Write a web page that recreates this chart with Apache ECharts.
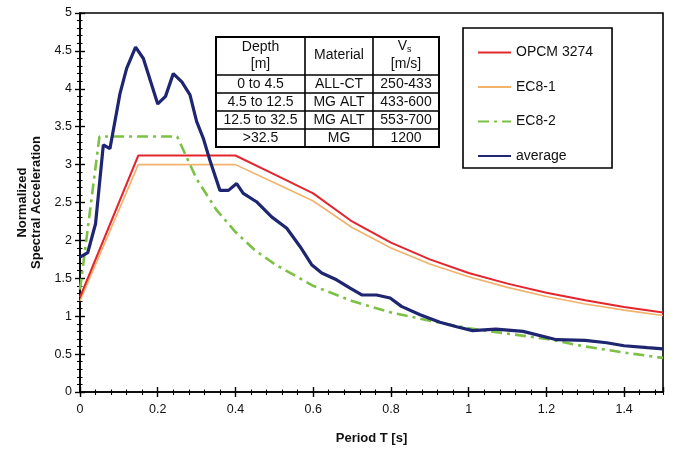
<!DOCTYPE html>
<html>
<head>
<meta charset="utf-8">
<script src="https://cdn.jsdelivr.net/npm/echarts@6/dist/echarts.min.js"></script>
<style>
  html, body { margin: 0; padding: 0; background: #fff; }
  #chart { width: 674px; height: 450px; }
</style>
</head>
<body>
<div id="chart"></div>
<script>
// Normalized elastic response spectra vs. the averaged site response
const opcmPeriod = [0, 0.15, 0.4, 0.5, 0.6, 0.7, 0.8, 0.9, 1.0, 1.1, 1.2, 1.3, 1.4, 1.5];
const opcmAccel  = [1.25, 3.12, 3.12, 2.87, 2.62, 2.25, 1.97, 1.75, 1.57, 1.43, 1.31, 1.21, 1.12, 1.05];

const ec81Period = [0, 0.15, 0.4, 0.5, 0.6, 0.7, 0.8, 0.9, 1.0, 1.1, 1.2, 1.3, 1.4, 1.5];
const ec81Accel  = [1.2, 3.0, 3.0, 2.76, 2.52, 2.17, 1.90, 1.69, 1.52, 1.38, 1.26, 1.16, 1.08, 1.01];

const ec82Period = [0, 0.05, 0.25, 0.3, 0.35, 0.4, 0.45, 0.5, 0.6, 0.7, 0.8, 0.9, 1.0, 1.1, 1.2, 1.3, 1.4, 1.5];
const ec82Accel  = [1.35, 3.37, 3.37, 2.81, 2.41, 2.11, 1.87, 1.69, 1.40, 1.20, 1.05, 0.94, 0.84, 0.77, 0.70, 0.60, 0.52, 0.45];

const avgPeriod = [0, 0.02, 0.04, 0.06, 0.077, 0.103, 0.12, 0.143, 0.163, 0.2, 0.22, 0.24, 0.262, 0.283,
                   0.3, 0.317, 0.334, 0.36, 0.382, 0.403, 0.42, 0.454, 0.493, 0.532, 0.566, 0.596, 0.622,
                   0.66, 0.695, 0.725, 0.763, 0.798, 0.827, 0.875, 0.926, 0.969, 1.01, 1.07, 1.14, 1.226,
                   1.3, 1.355, 1.4, 1.46, 1.5];
const avgAccel  = [1.78, 1.84, 2.22, 3.26, 3.21, 3.94, 4.27, 4.55, 4.40, 3.80, 3.90, 4.20, 4.09, 3.92,
                   3.57, 3.35, 3.06, 2.66, 2.66, 2.75, 2.62, 2.51, 2.31, 2.16, 1.92, 1.68, 1.57,
                   1.48, 1.37, 1.28, 1.28, 1.24, 1.13, 1.02, 0.92, 0.86, 0.81, 0.83, 0.80, 0.69,
                   0.68, 0.65, 0.61, 0.585, 0.57];

const seriesNames = ['OPCM 3274', 'EC8-1', 'EC8-2', 'average'];

// Soil profile table
const tableHeader     = ['Depth\n[m]', 'Material', '[m/s]'];
const depthRanges     = ['0 to 4.5', '4.5 to 12.5', '12.5 to 32.5', '>32.5'];
const materials       = ['ALL-CT', 'MG ALT', 'MG ALT', 'MG'];
const shearVelocities = ['250-433', '433-600', '553-700', '1200'];

const FONT = 'Liberation Sans, Arial, Helvetica, sans-serif';
const zip = (xs, ys) => xs.map((x, i) => [x, ys[i]]);

// ---- table drawn as graphic elements ----
function buildTable() {
  const left = 216, top = 37;
  const colX = [216, 305, 373, 439];
  const rowY = [37, 75, 93, 111, 129, 147];
  const els = [];
  els.push({ type: 'rect', shape: { x: left, y: top, width: colX[3] - left, height: rowY[5] - top },
             style: { fill: '#fff', stroke: '#000', lineWidth: 2 }, z: 10 });
  for (let c = 1; c < 3; c++) {
    els.push({ type: 'line', shape: { x1: colX[c], y1: top, x2: colX[c], y2: rowY[5] },
               style: { stroke: '#000', lineWidth: 1.6 }, z: 11 });
  }
  for (let r = 1; r < 5; r++) {
    els.push({ type: 'line', shape: { x1: left, y1: rowY[r], x2: colX[3], y2: rowY[r] },
               style: { stroke: '#000', lineWidth: 1.6 }, z: 11 });
  }
  const cellText = (text, cx, cy, size) => ({
    type: 'text', z: 12, x: cx, y: cy,
    style: { text, fill: '#111', font: `${size || 14}px ${FONT}`, align: 'center',
             verticalAlign: 'middle', lineHeight: 17 }
  });
  const mid = c => (colX[c] + colX[c + 1]) / 2;
  els.push(cellText(tableHeader[0], mid(0), 55.5));
  els.push(cellText(tableHeader[1], mid(1), 55.5));
  // V with subscript s
  els.push({ type: 'text', z: 12, x: mid(2) + 1, y: 46,
             style: { text: 'V', fill: '#111', font: `14px ${FONT}`, align: 'right', verticalAlign: 'middle' } });
  els.push({ type: 'text', z: 12, x: mid(2) + 1, y: 50,
             style: { text: 's', fill: '#111', font: `9px ${FONT}`, align: 'left', verticalAlign: 'middle' } });
  els.push(cellText(tableHeader[2], mid(2), 64));
  const cols = [depthRanges, materials, shearVelocities];
  for (let r = 0; r < 4; r++) {
    const cy = (rowY[r + 1] + rowY[r + 2]) / 2 + 0.5;
    cols.forEach((col, c) => els.push(cellText(col[r], mid(c), cy)));
  }
  return els;
}

const chart = echarts.init(document.getElementById('chart'), null, { renderer: 'canvas' });

const axisLineStyle = { color: '#000', width: 1.6 };
const xBase = { type: 'value', min: 0, max: 1.5, position: 'bottom', splitLine: { show: false } };
const yBase = { type: 'value', min: 0, max: 5, interval: 0.5, position: 'left', splitLine: { show: false } };

const option = {
  backgroundColor: '#fff',
  animation: false,
  textStyle: { fontFamily: FONT },
  grid: { left: 80, top: 13, right: 11, bottom: 58, show: true, borderColor: '#000', borderWidth: 1.6,
          backgroundColor: 'transparent' },
  legend: {
    data: seriesNames,
    orient: 'vertical',
    left: 463, top: 28,
    padding: [17.5, 19, 5, 14],
    itemWidth: 33, itemHeight: 14, itemGap: 20.5,
    itemStyle: { opacity: 0 },
    borderColor: '#000', borderWidth: 1.6, backgroundColor: '#fff',
    textStyle: { fontSize: 14, color: '#111', fontFamily: FONT },
    z: 10
  },
  xAxis: [
    Object.assign({}, xBase, {
      interval: 0.2,
      name: 'Period T [s]', nameLocation: 'middle', nameGap: 40,
      nameTextStyle: { fontSize: 13, fontWeight: 'bold', color: '#111', fontFamily: FONT },
      axisLine: { lineStyle: axisLineStyle },
      axisTick: { length: 5, lineStyle: { color: '#000', width: 1.4 } },
      axisLabel: { fontSize: 12.5, color: '#111', margin: 11, showMaxLabel: false, fontFamily: FONT }
    }),
    Object.assign({}, xBase, {
      interval: 0.2, axisLine: { show: false }, axisLabel: { show: false },
      axisTick: { inside: true, length: 5, lineStyle: { color: '#000', width: 1.4 } }
    }),
    Object.assign({}, xBase, {
      interval: 0.04, axisLine: { show: false }, axisLabel: { show: false },
      axisTick: { length: 3, lineStyle: { color: '#000', width: 1.1 } }
    }),
    Object.assign({}, xBase, {
      interval: 0.04, axisLine: { show: false }, axisLabel: { show: false },
      axisTick: { inside: true, length: 2.5, lineStyle: { color: '#000', width: 1.1 } }
    })
  ],
  yAxis: [
    Object.assign({}, yBase, {
      name: 'Normalized\nSpectral Acceleration', nameLocation: 'middle', nameGap: 35,
      nameTextStyle: { fontSize: 13, fontWeight: 'bold', color: '#111', lineHeight: 14.5, fontFamily: FONT },
      axisLine: { lineStyle: axisLineStyle },
      axisTick: { length: 5, lineStyle: { color: '#000', width: 1.4 } },
      minorTick: { show: true, splitNumber: 5, length: 3, lineStyle: { color: '#000', width: 1.1 } },
      axisLabel: { fontSize: 12.5, color: '#111', margin: 8, fontFamily: FONT }
    }),
    Object.assign({}, yBase, {
      axisLine: { show: false }, axisLabel: { show: false },
      axisTick: { inside: true, length: 5, lineStyle: { color: '#000', width: 1.4 } },
      minorTick: { show: true, splitNumber: 5, length: 2.5, lineStyle: { color: '#000', width: 1.1 } }
    })
  ],
  series: [
    { name: 'EC8-1', type: 'line', data: zip(ec81Period, ec81Accel), symbol: 'none', z: 2,
      lineStyle: { color: '#F2B26C', width: 1.6 }, itemStyle: { color: '#F2B26C' } },
    { name: 'OPCM 3274', type: 'line', data: zip(opcmPeriod, opcmAccel), symbol: 'none', z: 3,
      lineStyle: { color: '#E3262D', width: 2 }, itemStyle: { color: '#E3262D' } },
    { name: 'EC8-2', type: 'line', data: zip(ec82Period, ec82Accel), symbol: 'none', z: 4,
      lineStyle: { color: '#7DC046', width: 2.6, type: [11, 5, 3, 5] }, itemStyle: { color: '#7DC046' } },
    { name: 'average', type: 'line', data: zip(avgPeriod, avgAccel), symbol: 'none', z: 5,
      lineStyle: { color: '#1E2672', width: 3.2 }, itemStyle: { color: '#1E2672' } }
  ],
  graphic: buildTable()
};

chart.setOption(option);
</script>
</body>
</html>
